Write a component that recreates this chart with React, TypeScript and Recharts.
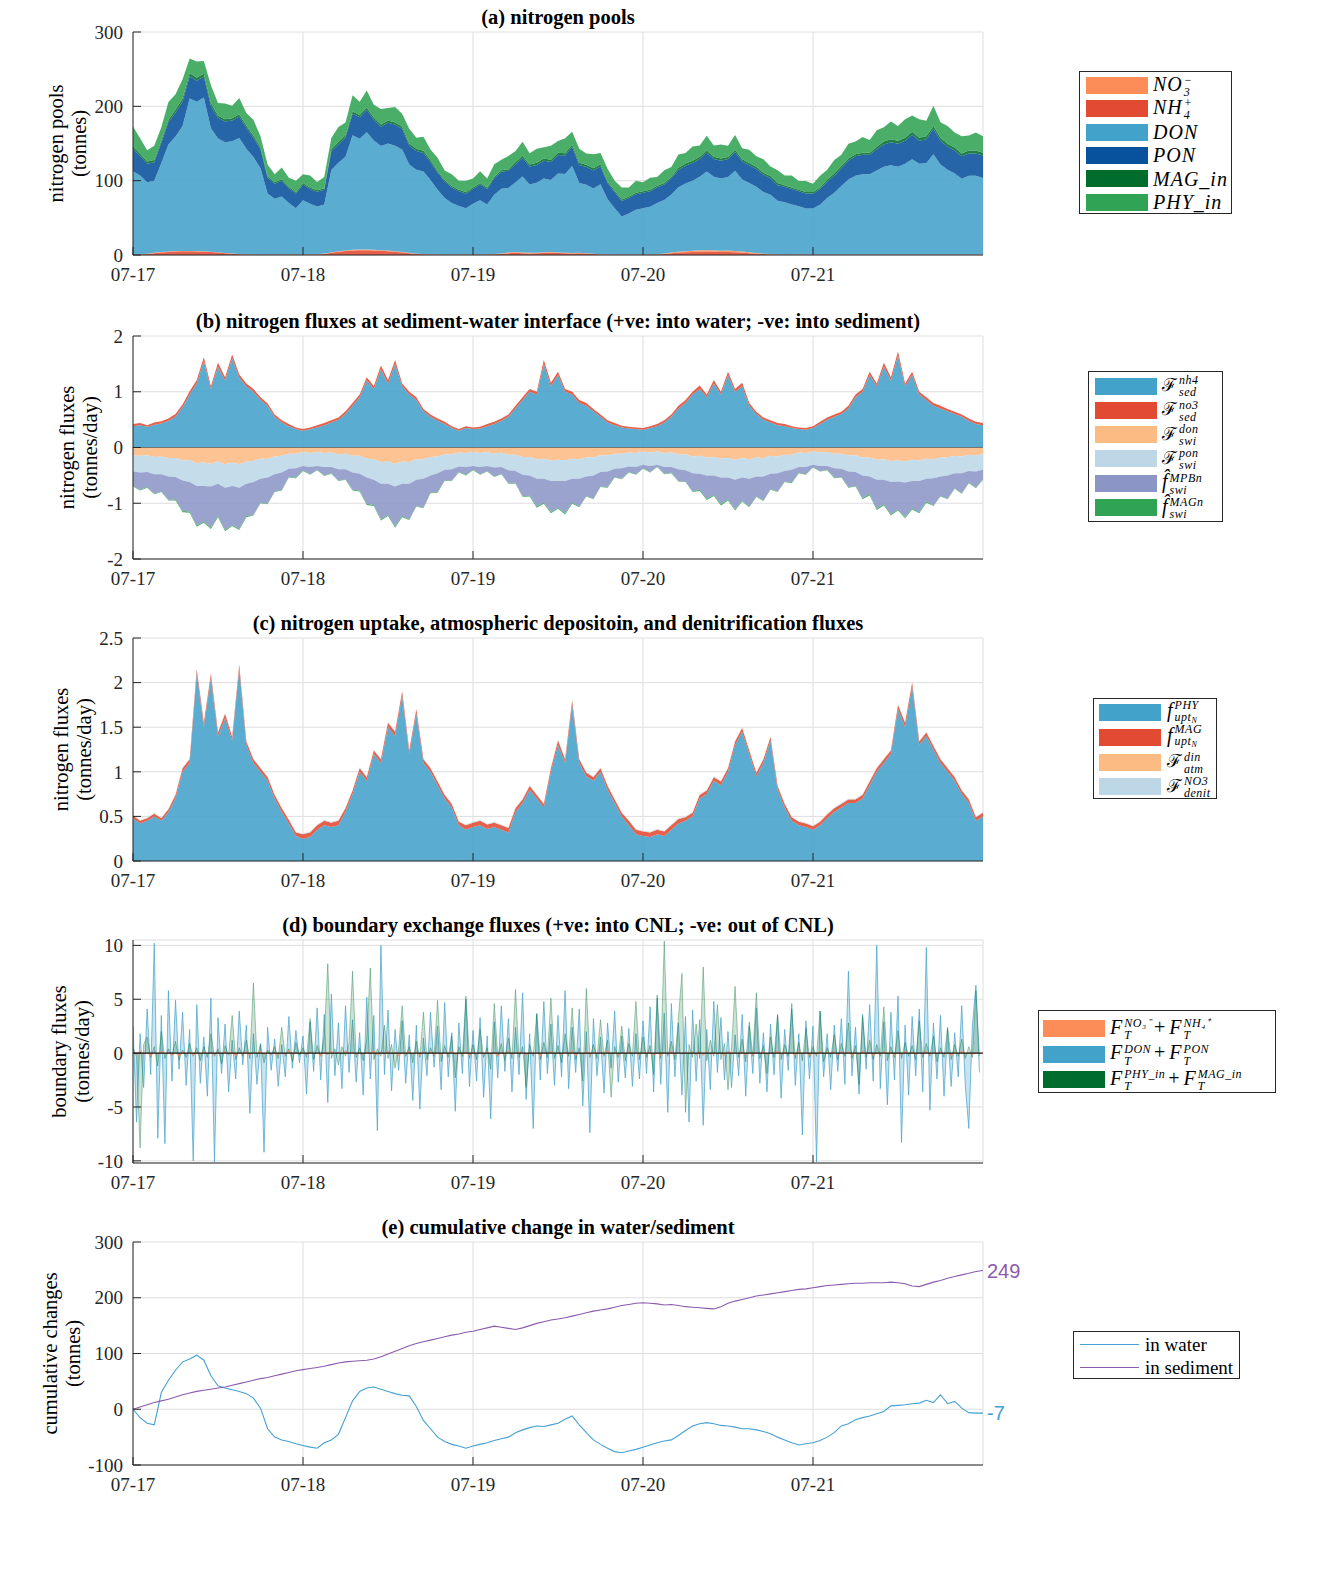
import React from 'react';
import { ComposedChart, Area, Line, XAxis, YAxis, CartesianGrid, ReferenceLine, ReferenceDot } from 'recharts';

// ---------- categories / ticks ----------
const dayLabels = ['07-17', '07-18', '07-19', '07-20', '07-21'];
const dayTicks = [0, 24, 48, 72, 96];
const poolTicks = [0, 100, 200, 300];
const sedTicks = [-2, -1, 0, 1, 2];
const uptTicks = [0, 0.5, 1, 1.5, 2, 2.5];
const bndTicks = [-10, -5, 0, 5, 10];
const cumTicks = [-100, 0, 100, 200, 300];

// ---------- (a) nitrogen pools, hourly (tonnes) ----------
const poolNO3 = [
  0.3, 0.3, 0.3, 0.4, 0.4, 0.5, 0.5, 0.5, 0.5, 0.5,
  0.5, 0.4, 0.4, 0.3, 0.3, 0.3, 0.3, 0.2, 0.2, 0.2,
  0.2, 0.2, 0.2, 0.2, 0.2, 0.2, 0.3, 0.4, 0.5, 0.6,
  0.7, 0.8, 0.8, 0.8, 0.8, 0.7, 0.7, 0.6, 0.5, 0.4,
  0.3, 0.3, 0.2, 0.2, 0.2, 0.2, 0.2, 0.2, 0.2, 0.2,
  0.2, 0.3, 0.5, 0.8, 1.0, 1.0, 0.9, 0.9, 1.0, 1.0,
  0.9, 0.8, 0.7, 0.6, 0.5, 0.4, 0.3, 0.2, 0.2, 0.2,
  0.2, 0.2, 0.2, 0.2, 0.3, 0.5, 0.8, 1.1, 1.4, 1.6,
  1.8, 1.9, 1.9, 1.8, 1.8, 1.7, 1.5, 1.2, 0.9, 0.6,
  0.4, 0.3, 0.2, 0.2, 0.2, 0.2, 0.2, 0.2, 0.2, 0.2,
  0.2, 0.2, 0.2, 0.2, 0.2, 0.2, 0.2, 0.2, 0.2, 0.2,
  0.2, 0.2, 0.2, 0.2, 0.2, 0.2, 0.2, 0.2, 0.2, 0.2, 0.2,
];
const poolNH4 = [
  0.5, 0.8, 1.5, 2.5, 3.5, 4.2, 4.8, 5.0, 5.0, 4.8,
  4.5, 4.0, 3.2, 2.4, 1.6, 1.0, 0.8, 0.7, 0.6, 0.6,
  0.6, 0.6, 0.6, 0.6, 0.6, 0.7, 0.8, 1.5, 3.0, 4.5,
  5.5, 6.2, 6.5, 6.5, 6.2, 5.8, 5.2, 4.5, 3.5, 2.5,
  1.5, 0.9, 0.7, 0.7, 0.6, 0.6, 0.6, 0.6, 0.6, 0.6,
  0.7, 0.9, 1.5, 2.5, 3.0, 2.5, 2.0, 2.2, 2.8, 3.0,
  2.6, 2.2, 2.0, 2.4, 2.0, 1.2, 0.8, 0.7, 0.6, 0.6,
  0.6, 0.6, 0.6, 0.6, 0.8, 1.5, 2.5, 3.2, 3.8, 4.2,
  4.5, 4.6, 4.4, 4.0, 4.2, 3.8, 3.2, 2.5, 1.8, 1.2,
  0.8, 0.6, 0.6, 0.6, 0.5, 0.5, 0.5, 0.5, 0.5, 0.5,
  0.5, 0.5, 0.5, 0.5, 0.5, 0.5, 0.5, 0.5, 0.5, 0.5,
  0.5, 0.5, 0.5, 0.5, 0.5, 0.5, 0.5, 0.5, 0.5, 0.5, 0.5,
];
const poolDON = [
  112, 106, 96, 97, 120, 144, 154, 168, 205, 201,
  207, 166, 153, 149, 151, 156, 142, 131, 116, 82,
  75, 78, 69, 62, 73, 68, 64, 66, 111, 119,
  126, 154, 149, 158, 147, 140, 144, 142, 138, 119,
  113, 111, 100, 87, 76, 69, 65, 62, 68, 73,
  67, 80, 87, 87, 94, 102, 92, 94, 99, 97,
  106, 106, 117, 94, 92, 88, 94, 74, 62, 51,
  55, 60, 62, 64, 69, 72, 78, 87, 91, 94,
  99, 106, 99, 97, 99, 108, 97, 93, 89, 83,
  80, 72, 70, 67, 65, 62, 62, 67, 76, 83,
  92, 101, 106, 108, 108, 113, 118, 120, 118, 122,
  128, 122, 123, 135, 121, 114, 109, 102, 106, 106, 103,
];
const poolPON = [
  30, 26, 25, 25, 27, 30, 32, 33, 30, 28,
  28, 30, 28, 28, 28, 29, 28, 26, 25, 21,
  20, 21, 20, 20, 21, 20, 20, 20, 25, 25,
  26, 29, 29, 30, 28, 26, 28, 28, 28, 25,
  25, 25, 24, 23, 22, 21, 20, 20, 20, 21,
  21, 22, 23, 23, 24, 25, 24, 24, 24, 24,
  25, 25, 26, 24, 24, 24, 24, 22, 22, 21,
  21, 21, 21, 21, 21, 21, 22, 23, 24, 24,
  24, 25, 24, 24, 24, 25, 24, 24, 24, 23,
  22, 21, 21, 21, 20, 20, 20, 21, 22, 23,
  24, 25, 26, 26, 26, 29, 30, 31, 31, 31,
  33, 31, 32, 34, 32, 31, 31, 30, 30, 30, 30,
];
const poolMAG = [
  3, 3, 3, 3, 3, 3, 4, 4, 4, 4,
  4, 4, 3, 3, 3, 3, 3, 3, 3, 2,
  2, 2, 2, 2, 2, 2, 2, 2, 3, 3,
  3, 3, 3, 3, 3, 3, 3, 3, 3, 3,
  3, 3, 3, 2, 2, 2, 2, 2, 2, 2,
  2, 2, 2, 2, 3, 3, 3, 3, 3, 3,
  3, 3, 3, 3, 3, 3, 3, 2, 2, 2,
  2, 2, 2, 2, 2, 2, 2, 3, 3, 3,
  3, 3, 3, 3, 3, 3, 3, 3, 3, 3,
  3, 3, 2, 2, 2, 2, 2, 2, 3, 3,
  3, 3, 3, 3, 3, 3, 4, 4, 4, 4,
  4, 4, 4, 4, 4, 4, 4, 4, 4, 4, 4,
];
const poolPHY = [
  27, 21, 15, 19, 18, 24, 21, 26, 20, 22,
  17, 24, 17, 21, 17, 22, 17, 21, 15, 16,
  11, 16, 12, 15, 12, 16, 11, 15, 15, 20,
  17, 22, 18, 23, 17, 21, 17, 21, 17, 20,
  15, 19, 14, 18, 13, 16, 12, 15, 12, 16,
  12, 17, 14, 18, 15, 19, 15, 19, 15, 19,
  16, 20, 17, 19, 15, 19, 15, 17, 13, 16,
  12, 16, 12, 16, 12, 17, 13, 18, 14, 19,
  15, 20, 15, 19, 15, 20, 15, 18, 14, 18,
  13, 17, 13, 16, 12, 15, 11, 16, 13, 18,
  15, 20, 17, 21, 17, 22, 19, 24, 20, 25,
  22, 25, 21, 27, 21, 24, 20, 23, 20, 24, 22,
];

// ---------- (b) sediment-water fluxes, hourly (tonnes/day) ----------
const sedNH4 = [
  0.38, 0.40, 0.37, 0.41, 0.43, 0.48, 0.55, 0.72, 0.95, 1.15,
  1.55, 1.05, 1.45, 1.20, 1.60, 1.25, 1.10, 1.00, 0.85, 0.75,
  0.55, 0.45, 0.38, 0.33, 0.30, 0.33, 0.36, 0.40, 0.45, 0.50,
  0.60, 0.75, 0.90, 1.20, 1.05, 1.40, 1.15, 1.50, 1.10, 0.95,
  0.85, 0.65, 0.55, 0.48, 0.42, 0.35, 0.30, 0.35, 0.33, 0.34,
  0.38, 0.42, 0.48, 0.55, 0.70, 0.85, 1.00, 0.95, 1.50, 1.10,
  1.30, 1.00, 0.95, 0.80, 0.75, 0.65, 0.55, 0.45, 0.40, 0.36,
  0.34, 0.33, 0.32, 0.35, 0.38, 0.45, 0.55, 0.70, 0.80, 0.95,
  1.05, 0.90, 1.15, 0.95, 1.30, 1.00, 1.10, 0.75, 0.60, 0.50,
  0.45, 0.40, 0.38, 0.35, 0.33, 0.32, 0.35, 0.42, 0.50, 0.55,
  0.60, 0.70, 0.90, 1.00, 1.30, 1.10, 1.45, 1.20, 1.65, 1.10,
  1.30, 0.95, 0.85, 0.75, 0.70, 0.65, 0.60, 0.55, 0.48, 0.42, 0.40,
];
const sedNO3 = [
  0.04, 0.04, 0.03, 0.04, 0.04, 0.04, 0.05, 0.05, 0.06, 0.06,
  0.07, 0.05, 0.07, 0.06, 0.07, 0.06, 0.05, 0.05, 0.05, 0.04,
  0.04, 0.04, 0.04, 0.03, 0.03, 0.03, 0.04, 0.04, 0.04, 0.04,
  0.05, 0.05, 0.05, 0.06, 0.05, 0.07, 0.06, 0.07, 0.05, 0.05,
  0.05, 0.04, 0.04, 0.04, 0.04, 0.03, 0.03, 0.03, 0.03, 0.03,
  0.04, 0.04, 0.04, 0.04, 0.05, 0.05, 0.05, 0.05, 0.07, 0.06,
  0.06, 0.05, 0.05, 0.05, 0.05, 0.04, 0.04, 0.04, 0.04, 0.03,
  0.03, 0.03, 0.03, 0.03, 0.04, 0.04, 0.04, 0.05, 0.05, 0.05,
  0.06, 0.05, 0.06, 0.05, 0.06, 0.05, 0.06, 0.05, 0.04, 0.04,
  0.04, 0.04, 0.04, 0.03, 0.03, 0.03, 0.03, 0.04, 0.04, 0.04,
  0.04, 0.05, 0.05, 0.05, 0.06, 0.05, 0.07, 0.06, 0.07, 0.05,
  0.06, 0.05, 0.05, 0.05, 0.05, 0.04, 0.04, 0.04, 0.04, 0.04, 0.04,
];
const swiDON = [
  -0.14, -0.15, -0.14, -0.17, -0.16, -0.19, -0.19, -0.23, -0.23, -0.28,
  -0.27, -0.29, -0.25, -0.30, -0.27, -0.30, -0.25, -0.24, -0.20, -0.20,
  -0.16, -0.15, -0.11, -0.11, -0.08, -0.10, -0.08, -0.10, -0.09, -0.12,
  -0.11, -0.15, -0.15, -0.20, -0.21, -0.26, -0.25, -0.29, -0.25, -0.26,
  -0.21, -0.21, -0.17, -0.16, -0.12, -0.12, -0.09, -0.10, -0.08, -0.10,
  -0.08, -0.11, -0.09, -0.13, -0.13, -0.17, -0.17, -0.21, -0.20, -0.23,
  -0.22, -0.23, -0.20, -0.21, -0.18, -0.18, -0.14, -0.14, -0.11, -0.11,
  -0.09, -0.10, -0.07, -0.09, -0.07, -0.10, -0.09, -0.12, -0.12, -0.16,
  -0.15, -0.18, -0.17, -0.20, -0.19, -0.22, -0.19, -0.21, -0.18, -0.19,
  -0.15, -0.16, -0.13, -0.13, -0.09, -0.10, -0.07, -0.09, -0.08, -0.11,
  -0.11, -0.14, -0.14, -0.18, -0.18, -0.22, -0.21, -0.24, -0.23, -0.25,
  -0.22, -0.23, -0.20, -0.21, -0.18, -0.18, -0.15, -0.16, -0.13, -0.14, -0.12,
];
const swiPON = [
  -0.29, -0.30, -0.30, -0.31, -0.32, -0.33, -0.34, -0.36, -0.39, -0.41,
  -0.42, -0.41, -0.40, -0.42, -0.42, -0.42, -0.40, -0.38, -0.36, -0.34,
  -0.32, -0.30, -0.27, -0.26, -0.25, -0.25, -0.25, -0.25, -0.26, -0.27,
  -0.28, -0.30, -0.32, -0.34, -0.37, -0.39, -0.40, -0.41, -0.40, -0.39,
  -0.37, -0.35, -0.33, -0.30, -0.28, -0.27, -0.25, -0.25, -0.25, -0.25,
  -0.25, -0.25, -0.26, -0.28, -0.29, -0.32, -0.33, -0.35, -0.36, -0.37,
  -0.38, -0.37, -0.36, -0.35, -0.34, -0.32, -0.30, -0.29, -0.27, -0.26,
  -0.25, -0.25, -0.24, -0.24, -0.24, -0.25, -0.26, -0.27, -0.29, -0.30,
  -0.32, -0.32, -0.33, -0.34, -0.35, -0.36, -0.35, -0.35, -0.34, -0.33,
  -0.32, -0.30, -0.29, -0.27, -0.26, -0.25, -0.24, -0.24, -0.25, -0.26,
  -0.27, -0.29, -0.30, -0.32, -0.34, -0.36, -0.37, -0.38, -0.38, -0.38,
  -0.38, -0.37, -0.36, -0.34, -0.34, -0.32, -0.31, -0.30, -0.29, -0.29, -0.28,
];
const swiMPB = [
  -0.26, -0.31, -0.27, -0.35, -0.31, -0.42, -0.40, -0.55, -0.53, -0.71,
  -0.64, -0.74, -0.58, -0.76, -0.70, -0.74, -0.58, -0.59, -0.43, -0.47,
  -0.31, -0.31, -0.15, -0.17, -0.08, -0.13, -0.07, -0.15, -0.11, -0.20,
  -0.18, -0.31, -0.30, -0.47, -0.45, -0.64, -0.56, -0.72, -0.58, -0.64,
  -0.47, -0.52, -0.31, -0.34, -0.19, -0.20, -0.10, -0.14, -0.07, -0.13,
  -0.09, -0.16, -0.12, -0.23, -0.22, -0.39, -0.36, -0.50, -0.43, -0.56,
  -0.48, -0.58, -0.43, -0.50, -0.35, -0.42, -0.26, -0.28, -0.15, -0.19,
  -0.10, -0.13, -0.06, -0.11, -0.03, -0.12, -0.10, -0.21, -0.20, -0.33,
  -0.29, -0.42, -0.35, -0.48, -0.39, -0.53, -0.41, -0.50, -0.36, -0.43,
  -0.28, -0.33, -0.19, -0.23, -0.10, -0.13, -0.04, -0.09, -0.07, -0.17,
  -0.15, -0.28, -0.25, -0.41, -0.32, -0.52, -0.44, -0.58, -0.50, -0.62,
  -0.49, -0.56, -0.41, -0.49, -0.35, -0.42, -0.27, -0.36, -0.21, -0.29, -0.17,
];
const swiMAG = [
  -0.01, -0.01, -0.01, -0.01, -0.01, -0.01, -0.02, -0.02, -0.02, -0.02,
  -0.02, -0.02, -0.02, -0.02, -0.02, -0.02, -0.02, -0.01, -0.01, -0.01,
  -0.01, -0.01, -0.01, -0.01, -0.01, -0.01, -0.01, -0.01, -0.01, -0.01,
  -0.01, -0.01, -0.02, -0.02, -0.02, -0.02, -0.02, -0.02, -0.02, -0.01,
  -0.01, -0.01, -0.01, -0.01, -0.01, -0.01, -0.01, -0.01, -0.01, -0.01,
  -0.01, -0.01, -0.01, -0.01, -0.01, -0.01, -0.02, -0.02, -0.02, -0.02,
  -0.02, -0.02, -0.02, -0.01, -0.01, -0.01, -0.01, -0.01, -0.01, -0.01,
  -0.01, -0.01, -0.01, -0.01, -0.01, -0.01, -0.01, -0.01, -0.01, -0.01,
  -0.02, -0.02, -0.02, -0.02, -0.02, -0.02, -0.02, -0.01, -0.01, -0.01,
  -0.01, -0.01, -0.01, -0.01, -0.01, -0.01, -0.01, -0.01, -0.01, -0.01,
  -0.01, -0.01, -0.01, -0.02, -0.02, -0.02, -0.02, -0.02, -0.02, -0.02,
  -0.02, -0.02, -0.02, -0.01, -0.01, -0.01, -0.01, -0.01, -0.01, -0.01, -0.01,
];

// ---------- (c) uptake / deposition / denitrification, hourly ----------
const uptPHY = [
  0.48, 0.42, 0.45, 0.50, 0.45, 0.55, 0.70, 1.00, 1.10, 2.10,
  1.50, 2.05, 1.40, 1.60, 1.35, 2.15, 1.30, 1.10, 1.00, 0.90,
  0.70, 0.55, 0.42, 0.28, 0.25, 0.27, 0.35, 0.40, 0.38, 0.40,
  0.55, 0.75, 1.00, 0.90, 1.20, 1.10, 1.50, 1.40, 1.85, 1.20,
  1.65, 1.10, 1.00, 0.85, 0.70, 0.60, 0.40, 0.35, 0.38, 0.40,
  0.36, 0.38, 0.35, 0.32, 0.55, 0.65, 0.80, 0.70, 0.60, 1.00,
  1.30, 1.10, 1.75, 1.10, 0.95, 0.90, 1.00, 0.80, 0.65, 0.50,
  0.40, 0.30, 0.28, 0.27, 0.30, 0.28, 0.35, 0.42, 0.45, 0.50,
  0.70, 0.75, 0.90, 0.85, 1.00, 1.30, 1.45, 1.20, 0.95, 1.10,
  1.35, 0.80, 0.60, 0.45, 0.40, 0.38, 0.35, 0.40, 0.48, 0.55,
  0.60, 0.65, 0.65, 0.70, 0.85, 1.00, 1.10, 1.20, 1.70, 1.50,
  1.95, 1.30, 1.40, 1.25, 1.10, 1.00, 0.90, 0.75, 0.65, 0.45, 0.50,
];
const uptMAG = [
  0.03, 0.03, 0.03, 0.03, 0.03, 0.03, 0.04, 0.04, 0.04, 0.05,
  0.05, 0.05, 0.04, 0.05, 0.04, 0.05, 0.04, 0.04, 0.04, 0.04,
  0.04, 0.04, 0.04, 0.04, 0.05, 0.05, 0.05, 0.05, 0.05, 0.05,
  0.04, 0.04, 0.04, 0.04, 0.04, 0.04, 0.05, 0.05, 0.05, 0.04,
  0.05, 0.04, 0.04, 0.04, 0.04, 0.04, 0.04, 0.05, 0.05, 0.05,
  0.05, 0.05, 0.05, 0.05, 0.04, 0.04, 0.04, 0.04, 0.04, 0.04,
  0.05, 0.04, 0.05, 0.04, 0.04, 0.04, 0.04, 0.04, 0.04, 0.04,
  0.05, 0.05, 0.05, 0.05, 0.05, 0.05, 0.05, 0.05, 0.04, 0.04,
  0.04, 0.04, 0.04, 0.04, 0.04, 0.04, 0.04, 0.04, 0.04, 0.04,
  0.04, 0.04, 0.04, 0.04, 0.04, 0.04, 0.04, 0.04, 0.04, 0.04,
  0.04, 0.04, 0.04, 0.04, 0.04, 0.04, 0.04, 0.04, 0.05, 0.05,
  0.05, 0.04, 0.04, 0.04, 0.04, 0.04, 0.04, 0.04, 0.04, 0.04, 0.04,
];
const atmDIN = [
  0.003, 0.003, 0.003, 0.003, 0.003, 0.003, 0.003, 0.003, 0.003, 0.003,
  0.003, 0.003, 0.003, 0.003, 0.003, 0.003, 0.003, 0.003, 0.003, 0.003,
  0.003, 0.003, 0.003, 0.003, 0.003, 0.003, 0.003, 0.003, 0.003, 0.003,
  0.003, 0.003, 0.003, 0.003, 0.003, 0.003, 0.003, 0.003, 0.003, 0.003,
  0.003, 0.003, 0.003, 0.003, 0.003, 0.003, 0.003, 0.003, 0.003, 0.003,
  0.003, 0.003, 0.003, 0.003, 0.003, 0.003, 0.003, 0.003, 0.003, 0.003,
  0.003, 0.003, 0.003, 0.003, 0.003, 0.003, 0.003, 0.003, 0.003, 0.003,
  0.003, 0.003, 0.003, 0.003, 0.003, 0.003, 0.003, 0.003, 0.003, 0.003,
  0.003, 0.003, 0.003, 0.003, 0.003, 0.003, 0.003, 0.003, 0.003, 0.003,
  0.003, 0.003, 0.003, 0.003, 0.003, 0.003, 0.003, 0.003, 0.003, 0.003,
  0.003, 0.003, 0.003, 0.003, 0.003, 0.003, 0.003, 0.003, 0.003, 0.003,
  0.003, 0.003, 0.003, 0.003, 0.003, 0.003, 0.003, 0.003, 0.003, 0.003, 0.003,
];
const denitNO3 = [
  0.006, 0.006, 0.006, 0.006, 0.006, 0.006, 0.007, 0.007, 0.007, 0.007,
  0.007, 0.007, 0.007, 0.007, 0.007, 0.007, 0.007, 0.006, 0.006, 0.006,
  0.006, 0.006, 0.006, 0.006, 0.006, 0.006, 0.006, 0.006, 0.006, 0.006,
  0.006, 0.006, 0.007, 0.007, 0.007, 0.007, 0.007, 0.007, 0.007, 0.006,
  0.006, 0.006, 0.006, 0.006, 0.006, 0.006, 0.006, 0.006, 0.006, 0.006,
  0.006, 0.006, 0.006, 0.006, 0.006, 0.006, 0.007, 0.007, 0.007, 0.007,
  0.007, 0.007, 0.007, 0.006, 0.006, 0.006, 0.006, 0.006, 0.006, 0.006,
  0.006, 0.006, 0.006, 0.006, 0.006, 0.006, 0.006, 0.006, 0.006, 0.006,
  0.007, 0.007, 0.007, 0.007, 0.007, 0.007, 0.007, 0.006, 0.006, 0.006,
  0.006, 0.006, 0.006, 0.006, 0.006, 0.006, 0.006, 0.006, 0.006, 0.006,
  0.006, 0.006, 0.006, 0.007, 0.007, 0.007, 0.007, 0.007, 0.007, 0.007,
  0.007, 0.007, 0.007, 0.006, 0.006, 0.006, 0.006, 0.006, 0.006, 0.006, 0.006,
];

// ---------- (d) boundary exchange fluxes, half-hourly (tonnes/day) ----------
const bndDIN = [
  0.10, -0.15, 0.20, -0.10, 0.05, -0.25, 0.10, -0.15, 0.20, -0.10, 0.05, -0.20, 0.10, -0.30, 0.15, -0.10, 0.10, -0.20, 0.05, -0.15,
  0.15, -0.10, 0.05, -0.20, 0.10, -0.05, 0.20, -0.15, 0.10, -0.25, 0.05, -0.10, 0.15, -0.20, 0.10, -0.05, 0.20, -0.15, 0.05, -0.10,
  0.05, -0.20, 0.10, -0.15, 0.25, -0.10, 0.05, -0.05, 0.10, -0.20, 0.15, -0.10, 0.05, -0.25, 0.10, -0.15, 0.20, -0.05, 0.10, -0.10,
  0.20, -0.05, 0.10, -0.20, 0.05, -0.15, 0.10, -0.10, 0.25, -0.20, 0.05, -0.10, 0.15, -0.05, 0.10, -0.25, 0.05, -0.15, 0.20, -0.10,
  0.10, -0.25, 0.15, -0.05, 0.10, -0.15, 0.05, -0.20, 0.10, -0.10, 0.20, -0.15, 0.05, -0.10, 0.15, -0.20, 0.10, -0.05, 0.05, -0.15,
  0.15, -0.10, 0.05, -0.30, 0.10, -0.15, 0.20, -0.10, 0.05, -0.05, 0.10, -0.20, 0.15, -0.10, 0.05, -0.25, 0.10, -0.15, 0.20, -0.05,
  0.05, -0.15, 0.10, -0.10, 0.20, -0.25, 0.05, -0.10, 0.15, -0.20, 0.10, -0.05, 0.05, -0.15, 0.25, -0.10, 0.10, -0.20, 0.05, -0.10,
  0.20, -0.10, 0.05, -0.15, 0.10, -0.05, 0.15, -0.20, 0.05, -0.25, 0.10, -0.10, 0.20, -0.15, 0.05, -0.10, 0.10, -0.05, 0.15, -0.20,
  0.10, -0.20, 0.15, -0.10, 0.05, -0.15, 0.10, -0.25, 0.20, -0.05, 0.05, -0.10, 0.15, -0.20, 0.10, -0.15, 0.05, -0.10, 0.20, -0.15,
  0.05, -0.10, 0.20, -0.15, 0.10, -0.05, 0.05, -0.20, 0.15, -0.10, 0.10, -0.25, 0.05, -0.15, 0.20, -0.10, 0.10, -0.05, 0.15, -0.20,
  0.15, -0.05, 0.10, -0.20, 0.05, -0.15, 0.20, -0.10, 0.10, -0.25, 0.05, -0.10, 0.15, -0.05, 0.10, -0.20, 0.05, -0.15, 0.20, -0.10,
  0.10, -0.15, 0.05, -0.10, 0.20, -0.20, 0.10, -0.05, 0.15, -0.15, 0.05, -0.25, 0.10, -0.10, 0.20, -0.05, 0.05, -0.15, 0.10, -0.10,
];
const bndORG = [
  2.5, -6.4, 1.8, -3.2, 4.1, -2.0, 10.2, -7.9, 3.5, -8.4, 5.8, -2.6, 4.9, -1.5, 3.8, -3.0, 2.2, -10.0, 4.5, -2.8,
  1.5, -4.0, 5.1, -10.1, 3.3, -1.9, 2.7, -3.6, 1.2, -2.4, 3.9, -1.1, 2.6, -5.6, 1.8, -2.9, 0.9, -9.2, 2.4, -1.6,
  1.3, -3.1, 0.8, -2.2, 3.4, -1.4, 2.1, -0.9, 1.6, -3.8, 2.9, -1.7, 4.2, -2.5, 3.6, -4.6, 5.5, -2.1, 2.8, -3.3,
  4.4, -1.8, 3.1, -2.7, 1.9, -3.9, 5.2, -2.4, 3.5, -7.2, 10.0, -2.0, 4.0, -3.5, 2.2, -1.6, 3.0, -2.8, 1.7, -4.4,
  2.6, -5.2, 1.4, -2.1, 3.8, -1.3, 2.5, -3.4, 4.7, -2.2, 1.9, -5.4, 2.8, -1.9, 5.0, -3.1, 2.1, -2.6, 3.3, -4.1,
  1.6, -6.1, 2.9, -2.3, 4.4, -1.7, 3.2, -3.6, 2.4, -2.0, 5.6, -4.3, 1.8, -7.0, 3.6, -2.5, 4.8, -1.9, 2.7, -3.0,
  3.5, -2.2, 5.8, -3.3, 2.4, -1.8, 4.1, -4.9, 2.0, -7.4, 3.2, -2.1, 1.5, -3.7, 2.8, -1.4, 3.9, -2.7, 1.6, -2.3,
  2.3, -3.1, 1.8, -2.4, 3.0, -1.9, 4.3, -3.6, 5.1, -2.9, 3.7, -5.5, 4.6, -2.2, 2.8, -3.9, 3.4, -6.4, 4.0, -2.6,
  3.1, -6.7, 2.2, -3.4, 4.8, -1.8, 3.3, -2.5, 2.0, -3.2, 1.7, -2.1, 3.6, -4.0, 2.5, -1.9, 4.2, -2.8, 1.9, -3.6,
  2.7, -2.0, 3.5, -4.2, 2.2, -1.6, 4.6, -3.0, 1.8, -7.6, 3.0, -2.4, 2.5, -10.1, 3.9, -2.2, 1.8, -3.4, 2.6, -1.7,
  3.2, -2.9, 7.6, -2.1, 2.4, -3.8, 3.6, -1.5, 4.5, -2.6, 10.0, -3.3, 2.9, -4.8, 3.8, -2.5, 5.3, -8.3, 2.6, -3.9,
  3.4, -2.1, 4.1, -3.6, 9.8, -5.3, 2.8, -2.4, 3.5, -4.0, 2.2, -3.1, 1.9, -2.2, 4.4, -3.0, -7.0, 2.5, 6.3, -1.8,
];
const bndPLANT = [
  0.5, -0.3, -8.8, 0.8, 1.5, -0.4, 0.6, -1.2, 2.0, -0.5, 0.4, -0.2, 1.1, -0.6, 0.3, -0.4, 0.9, -0.3, 0.5, -0.7,
  0.6, -0.4, 1.8, -0.3, 0.4, -1.0, 0.7, -0.2, 3.5, -0.6, 0.5, -0.3, 1.2, -0.5, 6.5, -0.4, 0.8, -0.9, 0.3, -0.2,
  0.6, -0.5, 2.4, -0.3, 0.4, -0.8, 1.0, -0.2, 0.5, -0.4, 3.2, -0.6, 0.7, -0.3, 1.5, 8.3, -0.5, 0.4, -1.1, 0.6,
  -0.3, 0.9, 7.6, -0.4, 0.5, -0.7, 1.3, 7.9, -0.6, 0.4, -0.3, 2.6, -0.5, 0.8, -1.4, 0.5, 4.4, -0.3, 0.6, -0.9,
  1.1, -0.4, 3.8, -0.6, 0.5, -0.3, 4.9, -0.8, 0.7, -0.4, 1.6, -2.3, 0.6, -0.3, 5.3, -0.5, 0.8, -0.6, 2.2, -0.4,
  0.5, -1.5, 4.6, -0.3, 0.9, -0.7, 1.4, -0.5, 5.9, -0.4, 0.6, -3.2, 0.8, -0.3, 3.7, -0.6, 1.0, -0.4, 5.1, -0.5,
  0.7, -0.9, 1.8, -0.3, 4.2, -0.6, 0.5, -2.6, 6.0, -0.4, 0.8, -0.5, 3.1, -0.3, 1.2, -4.1, 0.6, -0.4, 2.5, -0.7,
  0.9, -0.3, 4.8, -0.6, 1.5, -0.4, 0.7, -2.0, 5.4, -0.5, 10.4, -0.3, 1.1, -0.6, 3.3, 7.4, -5.5, 0.8, -0.4, 2.7,
  -0.5, 8.0, -0.7, 1.2, -0.3, 4.5, -0.6, 0.9, -3.4, 0.5, 6.2, -0.4, 1.3, -0.8, 2.9, -0.3, 5.6, -0.5, 0.7, -1.9,
  1.5, -0.4, 3.6, -0.6, 0.8, -0.3, 4.1, -0.5, 1.0, -0.7, 2.3, -0.4, 0.6, -0.3, 3.9, -0.8, 0.5, -0.4, 1.7, -0.6,
  0.9, -0.3, 2.8, -0.5, 0.7, -2.9, 3.4, -0.4, 1.2, -0.6, 0.8, -0.3, 4.3, -0.7, 0.6, -0.4, 2.1, -0.5, 1.0, -0.3,
  0.7, -0.6, 3.0, -0.4, 0.9, -0.3, 1.6, -0.8, 0.5, -0.4, 2.4, -0.6, 0.8, -0.3, 1.3, -0.5, 0.6, -0.4, 5.8, -0.3,
];

// ---------- (e) cumulative change, hourly (tonnes) ----------
const cumWater = [
  0, -15, -25, -28, 30, 52, 70, 85, 90, 97,
  88, 60, 42, 38, 35, 32, 28, 20, 2, -35,
  -50, -55, -58, -62, -65, -68, -70, -60, -55, -45,
  -15, 15, 32, 38, 40, 36, 32, 28, 25, 24,
  5, -20, -35, -50, -58, -63, -66, -70, -66, -63,
  -60, -56, -53, -50, -42, -37, -33, -30, -31, -28,
  -25, -18, -12, -28, -42, -55, -63, -70, -76, -78,
  -75, -72, -68, -64, -60, -57, -55, -47, -38, -30,
  -26, -24, -26, -29, -30, -32, -35, -35, -37, -40,
  -44, -50, -55, -60, -64, -62, -60, -56, -50, -42,
  -30, -26, -19, -15, -12, -8, -4, 6, 7, 8,
  10, 11, 16, 12, 26, 10, 14, 2, -6, -7, -7,
];
const cumSediment = [
  0, 4, 8, 12, 15, 18, 22, 26, 29, 32,
  34, 36, 38, 40, 43, 46, 49, 52, 55, 57,
  60, 63, 66, 69, 71, 73, 75, 77, 80, 83,
  85, 86, 87, 88, 90, 94, 99, 104, 109, 114,
  118, 121, 124, 127, 130, 133, 135, 138, 140, 143,
  146, 149, 147, 145, 143, 146, 150, 154, 157, 160,
  162, 164, 167, 170, 173, 176, 178, 180, 183, 186,
  188, 190, 191, 190, 189, 187, 188, 186, 184, 183,
  182, 181, 180, 184, 190, 194, 197, 200, 203, 205,
  207, 209, 211, 213, 215, 216, 218, 220, 222, 223,
  224, 225, 226, 226, 227, 227, 227, 228, 227, 225,
  221, 220, 224, 228, 231, 235, 238, 241, 244, 247, 249,
];

// ---------- tables ----------
const poolRows = poolDON.map((_, i) => ({
  h: i, no3: poolNO3[i], nh4: poolNH4[i], don: poolDON[i], pon: poolPON[i], mag: poolMAG[i], phy: poolPHY[i],
}));
const sedRows = sedNH4.map((_, i) => ({
  h: i, nh4: sedNH4[i], no3: sedNO3[i], don: swiDON[i], pon: swiPON[i], mpb: swiMPB[i], mag: swiMAG[i],
}));
const uptRows = uptPHY.map((_, i) => ({
  h: i, phy: uptPHY[i], mag: uptMAG[i], atm: atmDIN[i], denit: denitNO3[i],
}));
const bndRows = bndORG.map((_, i) => ({
  h: i / 2, din: bndDIN[i], org: bndORG[i], plant: bndPLANT[i],
}));
const cumRows = cumWater.map((_, i) => ({ h: i, water: cumWater[i], sediment: cumSediment[i] }));

// ---------- styling ----------
const SERIF = "'Liberation Serif','Times New Roman',Times,serif";
const SANS = "'Liberation Sans',Arial,Helvetica,sans-serif";
const AX = '#262626';
const CH_W = 1329;
const CH_H = 300;
const MARGIN = { top: 40, right: 346, bottom: 7, left: 73 };
const PANEL_TOPS = [32, 336, 638, 940, 1242];
const PLOT_H = 223;
const tickStyle = { fill: AX, fontSize: 19, fontFamily: SERIF };
const fmtDay = (v: number) => dayLabels[Math.round(v / 24)] ?? '';

const C = {
  no3: '#fc8d59', nh4: '#e34a33', don: '#43a2ca', pon: '#08519c', mag: '#006d2c', phy: '#31a354',
  sdon: '#fdbb84', spon: '#bdd7e7', mpb: '#8c96c6', water: '#46a0d2', sed: '#8c5aaf',
};

const grid = () => <CartesianGrid key="grid" stroke="#dedede" strokeWidth={1} />;
const axes = (yDomain: number[], yTicks: number[]) => [
  <XAxis key="xb" dataKey="h" type="number" domain={[0, 120]} ticks={dayTicks} tickFormatter={fmtDay}
    interval={0} tickSize={-8} tickMargin={21} height={30} stroke={AX} tick={tickStyle} allowDataOverflow />,
  <XAxis key="xt" xAxisId="top" orientation="top" dataKey="h" type="number" domain={[0, 120]} ticks={dayTicks}
    interval={0} tick={false} tickSize={-8} height={0} stroke={AX} allowDataOverflow />,
  <YAxis key="yl" type="number" domain={yDomain} ticks={yTicks} interval={0} tickSize={-8} tickMargin={18}
    width={60} stroke={AX} tick={tickStyle} allowDataOverflow />,
  <YAxis key="yr" yAxisId="right" orientation="right" type="number" domain={yDomain} ticks={yTicks}
    interval={0} tick={false} tickSize={-8} width={0} stroke={AX} allowDataOverflow />,
];

const area = (key: string, color: string, stackId?: string, op = 0.88) => (
  <Area key={key} dataKey={key} type="linear" stackId={stackId} stroke="none" fill={color} fillOpacity={op}
    isAnimationActive={false} dot={false} activeDot={false} />
);

const Chart = ({ top, data, children }: any) => (
  <div style={{ position: 'absolute', left: 0, top: top - MARGIN.top }}>
    <ComposedChart width={CH_W} height={CH_H} data={data} margin={MARGIN}>
      {children}
    </ComposedChart>
  </div>
);

// ---------- legends ----------
const SS = ({ sup, sub, size = 12 }: any) => (
  <span style={{ display: 'inline-flex', flexDirection: 'column', verticalAlign: 'middle', fontSize: size, lineHeight: `${size}px`, marginLeft: 1, textAlign: 'left', letterSpacing: 0.5 }}>
    <span>{sup}</span>
    <span>{sub}</span>
  </span>
);
const Cal = () => <span style={{ fontFamily: "'DejaVu Serif',serif", fontStyle: 'normal', fontSize: 18 }}>ℱ</span>;
const Fhat = () => <span>{'f\u0302'}</span>;
const uptN = <span>upt<span style={{ fontSize: 8, verticalAlign: '-2px' }}>N</span></span>;
const plus = <span style={{ fontStyle: 'normal', margin: '0 3px' }}>+</span>;

const LegendBox = ({ left, top, width, height, rows, rowTop, pitch, swatchLeft, swatchW, textLeft, line }: any) => (
  <div style={{ position: 'absolute', left, top, width, height, border: `1px solid ${AX}`, background: '#fff', boxSizing: 'border-box' }}>
    {rows.map((r: any, k: number) => (
      <React.Fragment key={k}>
        {line ? (
          <div style={{ position: 'absolute', left: swatchLeft, top: rowTop + k * pitch, width: swatchW, height: 0, borderTop: `1.2px solid ${r.color}` }} />
        ) : (
          <div style={{ position: 'absolute', left: swatchLeft, top: rowTop + k * pitch, width: swatchW, height: 17, background: r.color }} />
        )}
        <div style={{
          position: 'absolute', left: textLeft, top: rowTop + k * pitch + (line ? 0 : 8.5), transform: 'translateY(-50%)',
          whiteSpace: 'nowrap', fontFamily: SERIF, fontSize: line ? 19 : 20, lineHeight: 1, color: '#000',
          fontStyle: line ? 'normal' : 'italic', letterSpacing: line ? 0 : 1,
        }}>{r.label}</div>
      </React.Fragment>
    ))}
  </div>
);

const legendA = [
  { color: C.no3, label: <span>NO<SS sup="−" sub="3" /></span> },
  { color: C.nh4, label: <span>NH<SS sup="+" sub="4" /></span> },
  { color: C.don, label: 'DON' },
  { color: C.pon, label: 'PON' },
  { color: C.mag, label: 'MAG_in' },
  { color: C.phy, label: 'PHY_in' },
];
const legendB = [
  { color: C.don, label: <span><Cal /><SS sup="nh4" sub="sed" /></span> },
  { color: C.nh4, label: <span><Cal /><SS sup="no3" sub="sed" /></span> },
  { color: C.sdon, label: <span><Cal /><SS sup="don" sub="swi" /></span> },
  { color: C.spon, label: <span><Cal /><SS sup="pon" sub="swi" /></span> },
  { color: C.mpb, label: <span><Fhat /><SS sup="MPBn" sub="swi" /></span> },
  { color: C.phy, label: <span><Fhat /><SS sup="MAGn" sub="swi" /></span> },
];
const legendC = [
  { color: C.don, label: <span>f<SS sup="PHY" sub={uptN} /></span> },
  { color: C.nh4, label: <span>f<SS sup="MAG" sub={uptN} /></span> },
  { color: C.sdon, label: <span><Cal /><SS sup="din" sub="atm" /></span> },
  { color: C.spon, label: <span><Cal /><SS sup="NO3" sub="denit" /></span> },
];
const legendD = [
  { color: C.no3, label: <span>F<SS sup="NO₃⁻" sub="T" />{plus}F<SS sup="NH₄⁺" sub="T" /></span> },
  { color: C.don, label: <span>F<SS sup="DON" sub="T" />{plus}F<SS sup="PON" sub="T" /></span> },
  { color: C.mag, label: <span>F<SS sup="PHY_in" sub="T" />{plus}F<SS sup="MAG_in" sub="T" /></span> },
];
const legendE = [
  { color: C.water, label: 'in water' },
  { color: C.sed, label: 'in sediment' },
];

const panels = [
  { title: '(a) nitrogen pools', yl: ['nitrogen pools', '(tonnes)'], yx: [56, 79] },
  { title: '(b) nitrogen fluxes at sediment-water interface (+ve: into water; -ve: into sediment)', yl: ['nitrogen fluxes', '(tonnes/day)'], yx: [67, 90] },
  { title: '(c) nitrogen uptake, atmospheric depositoin, and denitrification fluxes', yl: ['nitrogen fluxes', '(tonnes/day)'], yx: [61, 84] },
  { title: '(d) boundary exchange fluxes (+ve: into CNL; -ve: out of CNL)', yl: ['boundary fluxes', '(tonnes/day)'], yx: [59, 82] },
  { title: '(e) cumulative change in water/sediment', yl: ['cumulative changes', '(tonnes)'], yx: [50, 73] },
];

export default function App() {
  const last = cumRows.length - 1;
  return (
    <div style={{ position: 'absolute', left: 0, top: 0, width: 1329, height: 1594, background: '#fff', overflow: 'hidden' }}>
      {/* (a) */}
      <Chart top={PANEL_TOPS[0]} data={poolRows}>
        {grid()}
        {area('nh4', C.nh4, 'pool')}
        {area('no3', C.no3, 'pool')}
        {area('don', C.don, 'pool')}
        {area('pon', C.pon, 'pool')}
        {area('mag', C.mag, 'pool')}
        {area('phy', C.phy, 'pool')}
        {axes([0, 300], poolTicks)}
      </Chart>

      {/* (b) */}
      <Chart top={PANEL_TOPS[1]} data={sedRows}>
        {grid()}
        {area('nh4', C.don, 'pos')}
        {area('no3', C.nh4, 'pos')}
        {area('don', C.sdon, 'neg')}
        {area('pon', C.spon, 'neg')}
        {area('mpb', C.mpb, 'neg')}
        {area('mag', C.phy, 'neg')}
        <ReferenceLine y={0} stroke="#666" strokeWidth={0.8} />
        {axes([-2, 2], sedTicks)}
      </Chart>

      {/* (c) */}
      <Chart top={PANEL_TOPS[2]} data={uptRows}>
        {grid()}
        {area('phy', C.don, 'upt')}
        {area('mag', C.nh4, 'upt')}
        {area('atm', C.sdon, 'upt')}
        {area('denit', C.spon, 'upt')}
        {axes([0, 2.5], uptTicks)}
      </Chart>

      {/* (d) */}
      <Chart top={PANEL_TOPS[3]} data={bndRows}>
        {grid()}
        <Area dataKey="org" type="linear" stroke={C.don} strokeWidth={0.7} fill={C.don} fillOpacity={0.3}
          isAnimationActive={false} dot={false} activeDot={false} />
        <Area dataKey="plant" type="linear" stroke={C.mag} strokeWidth={0.6} strokeOpacity={0.6} fill={C.mag} fillOpacity={0.2}
          isAnimationActive={false} dot={false} activeDot={false} />
        <Area dataKey="din" type="linear" stroke={C.no3} strokeWidth={0.8} fill={C.no3} fillOpacity={0.6}
          isAnimationActive={false} dot={false} activeDot={false} />
        <ReferenceLine y={0} stroke="#1a1a1a" strokeWidth={1.2} />
        {axes([-10.2, 10.5], bndTicks)}
      </Chart>

      {/* (e) */}
      <Chart top={PANEL_TOPS[4]} data={cumRows}>
        {grid()}
        <Line dataKey="water" type="linear" stroke={C.water} strokeWidth={1.1} dot={false} activeDot={false} isAnimationActive={false} />
        <Line dataKey="sediment" type="linear" stroke={C.sed} strokeWidth={1.1} dot={false} activeDot={false} isAnimationActive={false} />
        <ReferenceDot x={cumRows[last].h} y={cumRows[last].sediment} r={0} fill="none" stroke="none"
          label={{ value: String(cumSediment[last]), position: 'right', offset: 4, fill: C.sed, fontSize: 20, fontFamily: SANS }} />
        <ReferenceDot x={cumRows[last].h} y={cumRows[last].water} r={0} fill="none" stroke="none"
          label={{ value: String(cumWater[last]), position: 'right', offset: 4, fill: C.water, fontSize: 20, fontFamily: SANS }} />
        {axes([-100, 300], cumTicks)}
      </Chart>

      {/* titles and y-axis labels */}
      <svg width={1329} height={1594} style={{ position: 'absolute', left: 0, top: 0, pointerEvents: 'none' }}>
        {panels.map((p, i) => (
          <g key={i}>
            <text x={558} y={PANEL_TOPS[i] - 8} textAnchor="middle" fontFamily={SERIF} fontSize={20.5} fontWeight="bold" fill="#000">{p.title}</text>
            {p.yl.map((t, j) => (
              <text key={j} transform={`translate(${p.yx[j]},${PANEL_TOPS[i] + PLOT_H / 2}) rotate(-90)`} textAnchor="middle"
                dominantBaseline="central" fontFamily={SERIF} fontSize={20.5} fill="#000">{t}</text>
            ))}
          </g>
        ))}
      </svg>

      <LegendBox left={1079} top={71} width={153} height={143} rows={legendA} rowTop={5} pitch={23.3} swatchLeft={6} swatchW={62} textLeft={73} />
      <LegendBox left={1088} top={371} width={135} height={151} rows={legendB} rowTop={5.5} pitch={24.3} swatchLeft={6} swatchW={62} textLeft={73} />
      <LegendBox left={1093} top={698} width={124} height={101} rows={legendC} rowTop={5} pitch={24.8} swatchLeft={5} swatchW={62} textLeft={73} />
      <LegendBox left={1038} top={1010} width={238} height={83} rows={legendD} rowTop={9} pitch={25.7} swatchLeft={4} swatchW={62} textLeft={71} />
      <LegendBox left={1073} top={1331} width={167} height={48} rows={legendE} rowTop={12} pitch={23} swatchLeft={6} swatchW={59} textLeft={71} line />
    </div>
  );
}
